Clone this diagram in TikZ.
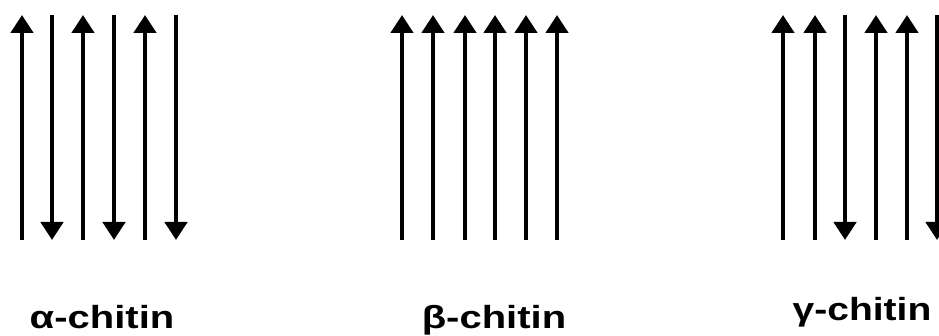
\documentclass[tikz,border=0pt]{standalone}
\usepackage{fontspec}
\setmainfont{Liberation Sans}
\usetikzlibrary{arrows.meta}
\tikzset{
  chain/.style={line width=4.5pt, -{Triangle[width=22pt,length=18pt]}},
  lbl/.style={font=\bfseries\fontsize{32}{36}\selectfont, anchor=base, inner sep=0pt}
}
\begin{document}
\begin{tikzpicture}[x=1pt,y=-1pt]
\useasboundingbox (0,0) rectangle (939,336);
% alpha: alternating
\foreach \x/\d [count=\i] in {22/u,52/d,83/u,114/d,145/u,176/d}{
  \coordinate (a\i t) at (\x,15);
  \coordinate (a\i b) at (\x,240);
  \if\d u \draw[chain] (a\i b) -- (a\i t); \else \draw[chain] (a\i t) -- (a\i b); \fi
}
% beta: all parallel
\foreach \x [count=\i] in {402,433,465,495,526,557}{
  \coordinate (b\i t) at (\x,15);
  \coordinate (b\i b) at (\x,240);
  \draw[chain] (b\i b) -- (b\i t);
}
% gamma: two up, one down
\foreach \x/\d [count=\i] in {783/u,815/u,845/d,876/u,907/u,937/d}{
  \coordinate (g\i t) at (\x,15);
  \coordinate (g\i b) at (\x,240);
  \if\d u \draw[chain] (g\i b) -- (g\i t); \else \draw[chain] (g\i t) -- (g\i b); \fi
}
\node[lbl] (la) at (102,328) {\scalebox{1.25}[1]{α-chitin}};
\node[lbl] (lb) at (494,328) {\scalebox{1.25}[1]{β-chitin}};
\node[lbl] (lg) at (862,320) {\scalebox{1.22}[1]{γ-chitin}};
\end{tikzpicture}
\end{document}
